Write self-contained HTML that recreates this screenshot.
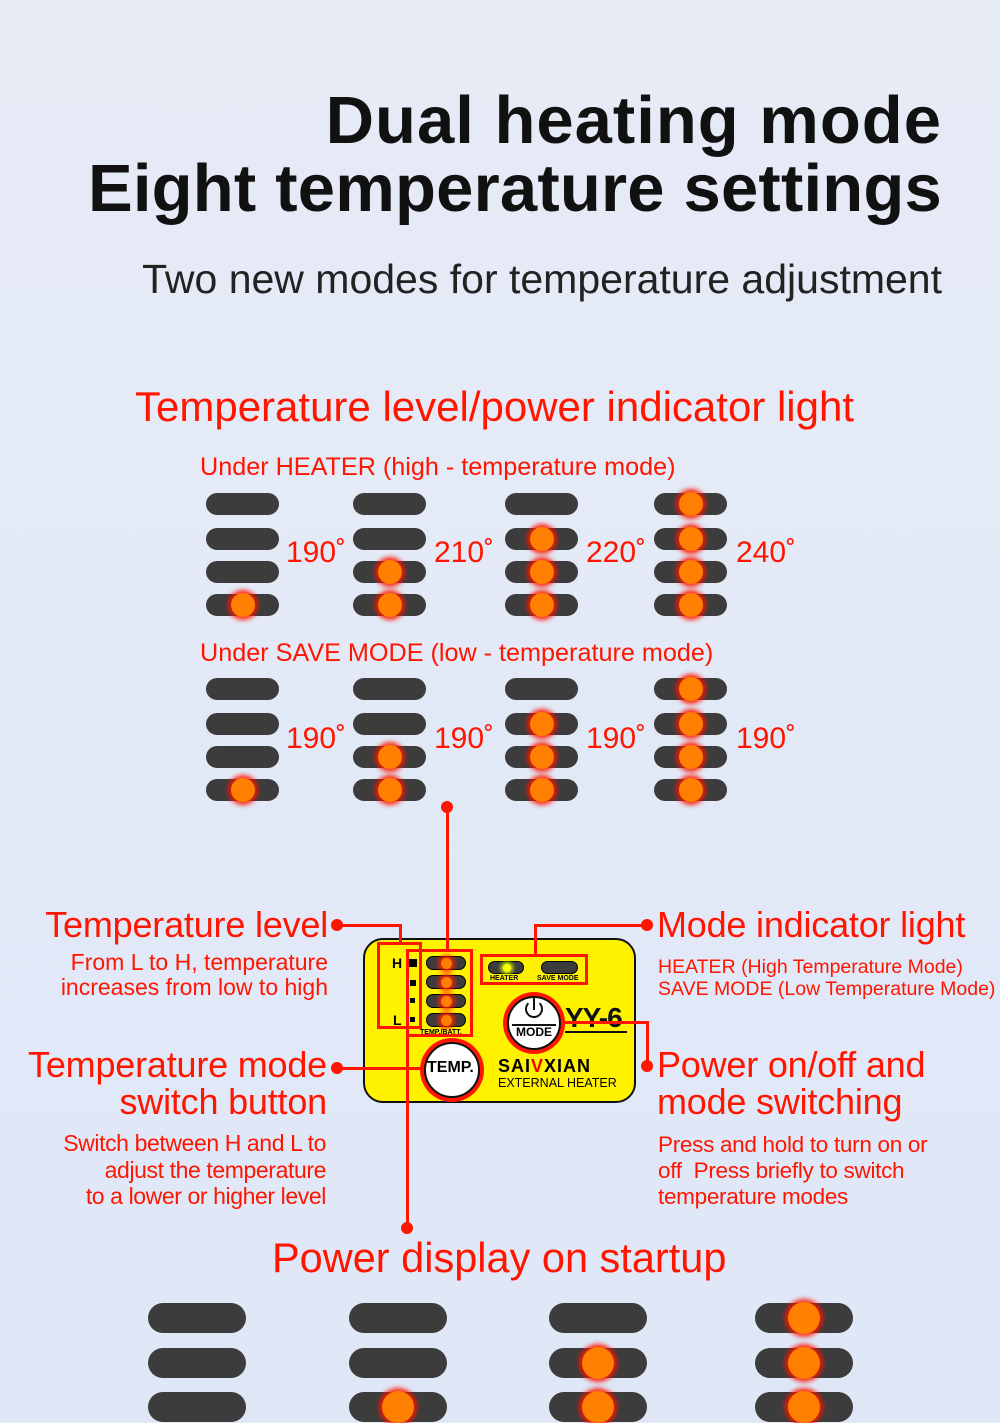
<!DOCTYPE html>
<html><head><meta charset="utf-8"><style>
*{margin:0;padding:0;box-sizing:border-box}
body{width:1000px;height:1422px;overflow:hidden;background:linear-gradient(180deg,#e6ebf6,#dfe7f7);font-family:"Liberation Sans",sans-serif;position:relative}
.a{position:absolute;white-space:nowrap}
.r{color:#ff1500}
.p{position:absolute;background:#3c3c3c;border-radius:15px}
.led{position:absolute;top:50%;left:50%;border-radius:50%;background:#ff8000;transform:translate(-50%,-50%);box-shadow:0 0 5px 3px rgba(255,20,0,.9)}
.ln{position:absolute;background:#ff1500}
.dot{position:absolute;width:12px;height:12px;border-radius:50%;background:#ff1500}
.box{position:absolute;border:3px solid #ff1500}
.dp{position:absolute;left:426px;width:40px;height:14px;border-radius:7px;background:#3c3c3c;border:1px solid #000}
.dp i{position:absolute;left:14px;top:1px;width:11px;height:11px;border-radius:50%;background:#ff8000;box-shadow:0 0 4px 3px rgba(255,30,0,.9)}
</style></head><body>
<div class="a" style="right:58px;top:82px;font-size:67px;font-weight:bold;color:#111;letter-spacing:1px">Dual heating mode</div>
<div class="a" style="right:58px;top:150px;font-size:67px;font-weight:bold;color:#111;letter-spacing:0.2px">Eight temperature settings</div>
<div class="a" style="right:58px;top:256px;font-size:41px;color:#222">Two new modes for temperature adjustment</div>
<div class="a r" style="left:135px;top:383px;font-size:42px">Temperature level/power indicator light</div>
<div class="a r" style="left:200px;top:453px;font-size:25.2px">Under HEATER (high - temperature mode)</div>
<div class="a r" style="left:200px;top:639px;font-size:25.2px">Under SAVE MODE (low - temperature mode)</div>
<div id="pills"></div>

<div class="a r" style="left:286px;top:536px;font-size:30px">190˚</div>
<div class="a r" style="left:434px;top:536px;font-size:30px">210˚</div>
<div class="a r" style="left:586px;top:536px;font-size:30px">220˚</div>
<div class="a r" style="left:736px;top:536px;font-size:30px">240˚</div>
<div class="a r" style="left:286px;top:722px;font-size:30px">190˚</div>
<div class="a r" style="left:434px;top:722px;font-size:30px">190˚</div>
<div class="a r" style="left:586px;top:722px;font-size:30px">190˚</div>
<div class="a r" style="left:736px;top:722px;font-size:30px">190˚</div>

<!-- device -->
<div style="position:absolute;left:363px;top:938px;width:273px;height:165px;background:#fff200;border:2px solid #111;border-radius:20px"></div>
<div class="a" style="left:392px;top:955px;font-size:14px;font-weight:bold">H</div>
<div class="a" style="left:393px;top:1012px;font-size:14px;font-weight:bold">L</div>
<div style="position:absolute;left:409px;top:959px;width:8px;height:8px;background:#000"></div>
<div style="position:absolute;left:410px;top:980px;width:6px;height:6px;background:#000"></div>
<div style="position:absolute;left:410px;top:998px;width:5px;height:5px;background:#000"></div>
<div style="position:absolute;left:410px;top:1017px;width:5px;height:5px;background:#000"></div>
<div class="dp" style="top:956px"><i></i></div>
<div class="dp" style="top:975px"><i></i></div>
<div class="dp" style="top:994px"><i></i></div>
<div class="dp" style="top:1013px"><i></i></div>
<div class="a" style="left:420px;top:1029px;font-size:7px;font-weight:bold">TEMP./BATT.</div>
<div class="a" style="left:490px;top:975px;font-size:7px;font-weight:bold">HEATER</div>
<div class="a" style="left:537px;top:975px;font-size:7px;font-weight:bold">SAVE MODE</div>
<div class="p" style="left:488px;top:961px;width:36px;height:13px;border:1px solid #000;background:#3c3c3c"><div style="position:absolute;left:14px;top:2px;width:8px;height:8px;border-radius:50%;background:#ff0;box-shadow:0 0 4px 2px #cf0"></div></div>
<div class="p" style="left:541px;top:961px;width:37px;height:13px;border:1px solid #000"></div>
<div style="position:absolute;left:503px;top:992px;width:62px;height:62px;border-radius:50%;background:#ff1500"></div>
<div style="position:absolute;left:507px;top:996px;width:54px;height:54px;border-radius:50%;background:#fff;border:2px solid #111"></div>
<div style="position:absolute;left:525px;top:1000px;width:18px;height:18px;border-radius:50%;border:2px solid #111;border-top-color:transparent"></div>
<div style="position:absolute;left:533px;top:998px;width:2px;height:12px;background:#111"></div>
<div style="position:absolute;left:512px;top:1024px;width:44px;height:1.5px;background:#111"></div>
<div class="a" style="left:516px;top:1025px;font-size:12px;font-weight:bold">MODE</div>
<div class="a" style="left:565px;top:1002px;font-size:28px;font-weight:bold;color:#111;letter-spacing:-1px">YY-6</div>
<div style="position:absolute;left:565px;top:1031px;width:62px;height:1.5px;background:#111"></div>
<div style="position:absolute;left:420px;top:1038px;width:64px;height:64px;border-radius:50%;background:#ff1500"></div>
<div style="position:absolute;left:424px;top:1042px;width:56px;height:56px;border-radius:50%;background:#fff;border:2px solid #111"></div>
<div class="a" style="left:427px;top:1059px;font-size:16px;font-weight:bold">TEMP.</div>
<div class="a" style="left:498px;top:1056px;font-size:18px;font-weight:bold;letter-spacing:1px">SAI<span style="color:#e00">V</span>XIAN</div>
<div class="a" style="left:498px;top:1076px;font-size:12.5px">EXTERNAL HEATER</div>

<div class="box" style="left:377px;top:942px;width:45px;height:87px"></div>
<div class="box" style="left:406px;top:949px;width:67px;height:88px"></div>
<div class="box" style="left:480px;top:954px;width:108px;height:31px"></div>
<div class="ln" style="left:446px;top:807px;width:3px;height:143px"></div>
<div class="dot" style="left:441px;top:801px"></div>
<div class="ln" style="left:335px;top:924px;width:67px;height:3px"></div>
<div class="ln" style="left:399px;top:924px;width:3px;height:19px"></div>
<div class="dot" style="left:331px;top:919px"></div>
<div class="ln" style="left:534px;top:924px;width:113px;height:3px"></div>
<div class="ln" style="left:534px;top:924px;width:3px;height:31px"></div>
<div class="dot" style="left:641px;top:919px"></div>
<div class="ln" style="left:564px;top:1021px;width:85px;height:3px"></div>
<div class="ln" style="left:646px;top:1021px;width:3px;height:45px"></div>
<div class="dot" style="left:641px;top:1060px"></div>
<div class="ln" style="left:335px;top:1067px;width:87px;height:3px"></div>
<div class="dot" style="left:331px;top:1062px"></div>
<div class="ln" style="left:406px;top:1036px;width:3px;height:192px"></div>
<div class="dot" style="left:401px;top:1222px"></div>

<div class="a r" style="right:672px;top:904px;font-size:36px;letter-spacing:-0.2px">Temperature level</div>
<div class="a r" style="right:672px;top:950px;font-size:23px;text-align:right;line-height:25px">From L to H, temperature<br>increases from low to high</div>
<div class="a r" style="right:673px;top:1046px;font-size:36px;text-align:right;line-height:37px;letter-spacing:-0.2px">Temperature mode<br>switch button</div>
<div class="a r" style="right:674px;top:1130px;font-size:23px;text-align:right;line-height:26.5px;letter-spacing:-0.4px">Switch between H and L to<br>adjust the temperature<br>to a lower or higher level</div>
<div class="a r" style="left:657px;top:904px;font-size:36px;letter-spacing:-0.2px">Mode indicator light</div>
<div class="a r" style="left:658px;top:956px;font-size:19.5px;line-height:22px">HEATER (High Temperature Mode)<br>SAVE MODE (Low Temperature Mode)</div>
<div class="a r" style="left:657px;top:1046px;font-size:36px;line-height:37px;letter-spacing:-0.2px">Power on/off and<br>mode switching</div>
<div class="a r" style="left:658px;top:1132px;font-size:22.5px;line-height:26px;letter-spacing:-0.3px">Press and hold to turn on or<br>off&nbsp; Press briefly to switch<br>temperature modes</div>
<div class="a r" style="left:272px;top:1234px;font-size:41.5px">Power display on startup</div>

<script>
var h='';
function pill(x,y,w,hh,on,ls){
 h+='<div class="p" style="left:'+x+'px;top:'+y+'px;width:'+w+'px;height:'+hh+'px;border-radius:'+hh/2+'px">'+(on?'<div class="led" style="width:'+ls+'px;height:'+ls+'px"></div>':'')+'</div>';
}
var cols=[206,353,505,654];
[[493,528,561,594],[678,713,746,779]].forEach(function(rows){
 cols.forEach(function(x,ci){rows.forEach(function(y,ri){pill(x,y,73,22,ri>=3-ci,24);});});
});
var bc=[148,349,549,755],br=[1303,1348,1392];
bc.forEach(function(x,ci){br.forEach(function(y,ri){pill(x,y,98,30,ri>=3-ci,32);});});
document.getElementById('pills').innerHTML=h;
</script>
</body></html>
